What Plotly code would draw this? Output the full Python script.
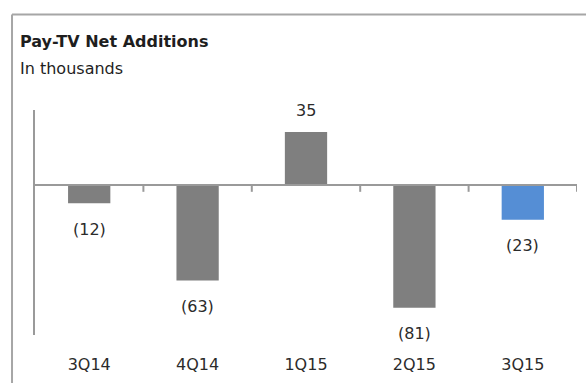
import plotly.graph_objects as go

# Quarterly pay-TV net additions (thousands)
quarters = ["3Q14", "4Q14", "1Q15", "2Q15", "3Q15"]
net_adds = [-12, -63, 35, -81, -23]
value_labels = ["(12)", "(63)", "35", "(81)", "(23)"]
bar_colors = ["#7f7f7f", "#7f7f7f", "#7f7f7f", "#7f7f7f", "#558ed5"]

FONT = "'DejaVu Sans', sans-serif"
TEXT = "#2b2b2b"
AXIS = "#9a9a9a"

fig = go.Figure()
fig.add_trace(go.Bar(
    x=quarters,
    y=net_adds,
    marker=dict(color=bar_colors, line=dict(width=0)),
    width=0.39,
    hoverinfo="skip",
))

# Value labels: above positive bars, below negative ones
for q, v, lab in zip(quarters, net_adds, value_labels):
    fig.add_annotation(
        x=q, y=v, xref="x", yref="y", text=lab, showarrow=False,
        yshift=21 if v >= 0 else -26,
        font=dict(family=FONT, size=16, color=TEXT),
    )

shapes = []
# Small tick marks hanging below the zero line at category boundaries
for i in range(len(quarters)):
    shapes.append(dict(type="line", xref="x", yref="y",
                       x0=i + 0.5, x1=i + 0.5, y0=0, y1=-4.5,
                       line=dict(color=AXIS, width=2)))
# Zero baseline
shapes.append(dict(type="line", xref="x", yref="y",
                   x0=-0.5, x1=len(quarters) - 0.5, y0=0, y1=0,
                   line=dict(color=AXIS, width=2)))
# Panel frame (top and left edges)
shapes.append(dict(type="line", xref="paper", yref="paper",
                   x0=-0.0424, x1=1.1, y0=1.425, y1=1.425,
                   line=dict(color="#a6a6a6", width=2)))
shapes.append(dict(type="line", xref="paper", yref="paper",
                   x0=-0.0424, x1=-0.0424, y0=1.425, y1=-0.3,
                   line=dict(color="#a6a6a6", width=2)))

fig.update_layout(
    width=586, height=383,
    margin=dict(l=35, r=9, t=110, b=45),
    paper_bgcolor="white", plot_bgcolor="white",
    showlegend=False,
    shapes=shapes,
    xaxis=dict(
        type="category", range=[-0.5, len(quarters) - 0.5],
        showline=False, showgrid=False, zeroline=False, ticks="",
        tickfont=dict(family=FONT, size=16, color=TEXT),
        ticklabelstandoff=18,
    ),
    yaxis=dict(
        range=[-99, 49.5], showgrid=False, zeroline=False,
        showticklabels=False, ticks="",
        showline=True, linecolor=AXIS, linewidth=2,
    ),
    annotations=list(fig.layout.annotations) + [
        dict(text="<b>Pay-TV Net Additions</b>", xref="paper", yref="paper",
             x=-0.031, y=1.305, xanchor="left", yanchor="middle", showarrow=False,
             font=dict(family=FONT, size=16, color="#1e1e1e")),
        dict(text="In thousands", xref="paper", yref="paper",
             x=-0.031, y=1.185, xanchor="left", yanchor="middle", showarrow=False,
             font=dict(family=FONT, size=16, color="#1e1e1e")),
    ],
)

fig.write_html("out.html")
